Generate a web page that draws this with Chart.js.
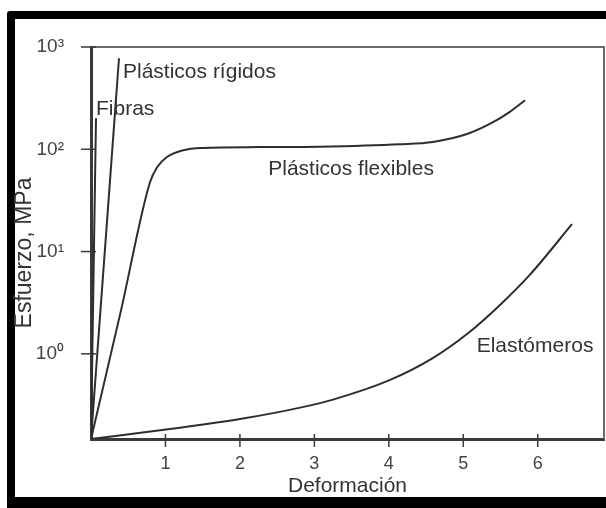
<!DOCTYPE html>
<html>
<head>
<meta charset="utf-8">
<script src="https://cdn.jsdelivr.net/npm/chart.js@4.4.0/dist/chart.umd.min.js"></script>
<style>
  html, body { margin: 0; padding: 0; background: #fff; overflow: hidden; }
  #frame { position: absolute; left: 7px; top: 11px; width: 640px; height: 478px; border: 8px solid #000; border-bottom-width: 14px; border-radius: 3px; }
  #chart { position: absolute; left: 0; top: 0; }
</style>
</head>
<body>
<div id="frame"></div>
<canvas id="chart" width="606" height="508"></canvas>
<script>
// values (strain, stress in MPa, log axis)
var fibrasX = [0, 0.067];
var fibrasY = [0.147, 201];

var rigidosX = [0, 0.376];
var rigidosY = [0.147, 777];

var flexiblesX = [0, 0.40, 0.79, 0.89, 1.02, 1.24, 1.50, 2.27, 3.07, 4.15, 4.59, 5.05, 5.40, 5.62, 5.83];
var flexiblesY = [0.147, 2.6, 47, 67, 84, 98, 103, 105, 106, 112, 118, 141, 184, 231, 302];

var elastomerosX = [0, 1.06, 2.04, 2.81, 3.25, 4.01, 4.59, 5.05, 5.49, 5.89, 6.46];
var elastomerosY = [0.147, 0.184, 0.233, 0.298, 0.357, 0.553, 0.908, 1.56, 2.99, 5.88, 18.5];

var xTickValues = [1, 2, 3, 4, 5, 6];
var xTickLabels = ['1', '2', '3', '4', '5', '6'];
var yTickValues = [1, 10, 100, 1000];
var yTickLabels = ['10⁰', '10¹', '10²', '10³'];

var xTitle = 'Deformación';
var yTitle = 'Esfuerzo, MPa';

function toPoints(xs, ys) {
  return xs.map(function (x, i) { return { x: x, y: ys[i] }; });
}

function curve(name, xs, ys, labelPos) {
  return {
    label: name,
    data: toPoints(xs, ys),
    borderColor: '#2e2e2e',
    borderWidth: 2,
    pointRadius: 0,
    cubicInterpolationMode: 'monotone',
    labelPos: labelPos
  };
}

var textColor = '#333';
var fontFamily = '"Liberation Sans", Arial, sans-serif';

// frame, crossing tick marks, curve names and the rotated y title
var extras = {
  id: 'extras',
  beforeDatasetsDraw: function (chart) {
    var ctx = chart.ctx, a = chart.chartArea, x = chart.scales.x, y = chart.scales.y;
    ctx.save();
    ctx.strokeStyle = '#6a6a6a';
    ctx.lineWidth = 2;
    ctx.beginPath();
    ctx.moveTo(a.left, a.top);
    ctx.lineTo(a.right, a.top);
    ctx.lineTo(a.right, a.bottom);
    ctx.stroke();

    ctx.strokeStyle = '#3a3a3a';
    ctx.lineWidth = 1.5;
    y.ticks.forEach(function (t) {
      var py = y.getPixelForValue(t.value);
      ctx.beginPath();
      ctx.moveTo(a.left - 10, py);
      ctx.lineTo(a.left + 5, py);
      ctx.stroke();
    });
    x.ticks.forEach(function (t) {
      var px = x.getPixelForValue(t.value);
      ctx.beginPath();
      ctx.moveTo(px, a.bottom - 5);
      ctx.lineTo(px, a.bottom + 8);
      ctx.stroke();
    });
    ctx.restore();
  },
  afterDatasetsDraw: function (chart) {
    var ctx = chart.ctx, x = chart.scales.x, y = chart.scales.y;
    ctx.save();
    ctx.fillStyle = textColor;
    ctx.font = '21px ' + fontFamily;
    ctx.textAlign = 'left';
    ctx.textBaseline = 'alphabetic';
    chart.data.datasets.forEach(function (ds) {
      ctx.fillText(ds.label, x.getPixelForValue(ds.labelPos.x), y.getPixelForValue(ds.labelPos.y));
    });

    ctx.translate(25, 253);
    ctx.rotate(-Math.PI / 2);
    ctx.font = '23px ' + fontFamily;
    ctx.textAlign = 'center';
    ctx.textBaseline = 'middle';
    ctx.fillText(yTitle, 0, 0);
    ctx.restore();
  }
};

var config = {
  type: 'line',
  data: {
    datasets: [
      curve('Fibras', fibrasX, fibrasY, { x: 0.067, y: 215 }),
      curve('Plásticos rígidos', rigidosX, rigidosY, { x: 0.43, y: 495 }),
      curve('Plásticos flexibles', flexiblesX, flexiblesY, { x: 2.38, y: 55.8 }),
      curve('Elastómeros', elastomerosX, elastomerosY, { x: 5.18, y: 1.04 })
    ]
  },
  options: {
    responsive: false,
    animation: false,
    layout: { padding: { top: 47, right: 2, left: 0, bottom: 0 } },
    plugins: { legend: { display: false }, tooltip: { enabled: false } },
    scales: {
      x: {
        type: 'linear',
        min: 0,
        max: 6.89,
        afterBuildTicks: function (s) { s.ticks = xTickValues.map(function (v) { return { value: v }; }); },
        afterFit: function (s) { s.height = 69; },
        grid: { display: false, drawTicks: false },
        border: { display: true, color: '#3a3a3a', width: 3 },
        ticks: {
          autoSkip: false,
          maxRotation: 0,
          padding: 14,
          color: '#444',
          font: { family: fontFamily, size: 18 },
          callback: function (v, i) { return xTickLabels[i]; }
        },
        title: {
          display: true,
          text: xTitle,
          color: textColor,
          font: { family: fontFamily, size: 21 },
          padding: { top: 0, bottom: 9 }
        }
      },
      y: {
        type: 'logarithmic',
        min: 0.147,
        max: 1000,
        afterBuildTicks: function (s) { s.ticks = yTickValues.map(function (v) { return { value: v }; }); },
        afterFit: function (s) { s.width = 91; },
        grid: { display: false, drawTicks: false },
        border: { display: true, color: '#3a3a3a', width: 3 },
        ticks: {
          autoSkip: false,
          padding: 27,
          color: '#444',
          font: { family: fontFamily, size: 19 },
          callback: function (v, i) { return yTickLabels[i]; }
        }
      }
    }
  },
  plugins: [extras]
};

new Chart(document.getElementById('chart'), config);
</script>
</body>
</html>
